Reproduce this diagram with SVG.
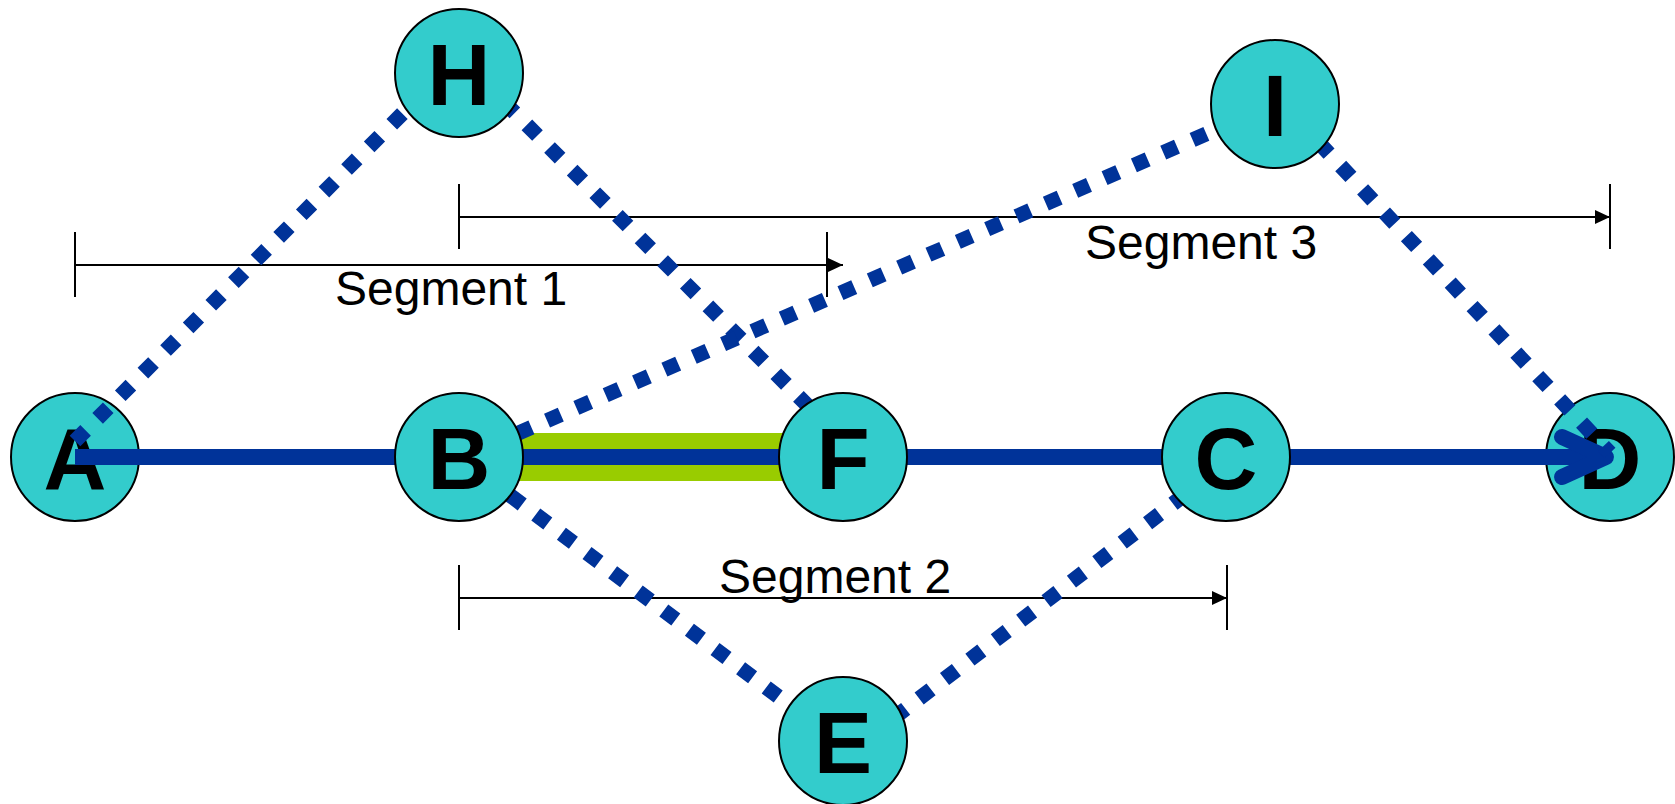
<svg xmlns="http://www.w3.org/2000/svg" width="1675" height="804" viewBox="0 0 1675 804">
<defs>
<marker id="dimArrow" markerWidth="16" markerHeight="14" refX="15" refY="7" orient="auto" markerUnits="userSpaceOnUse">
<path d="M0,0 L15,7 L0,14 Z" fill="#000"/>
</marker>
<style>
.node circle{fill:#33CCCC;stroke:#000;stroke-width:2}
.node text{font-family:"Liberation Sans",Arial,sans-serif;font-weight:bold;font-size:87px;text-anchor:middle;fill:#000}
.dot{stroke:#003399;stroke-width:15;stroke-dasharray:15 17;fill:none}
.main{stroke:#003399;stroke-width:16;fill:none}
.dim{stroke:#000;stroke-width:2;fill:none}
.lbl{font-family:"Liberation Sans",Arial,sans-serif;font-size:48px;fill:#000}
</style>
</defs>
<rect width="1675" height="804" fill="#fff"/>
<g id="node-A" class="node"><circle cx="75" cy="457" r="64"/><text x="75" y="489">A</text></g>
<g id="node-D" class="node"><circle cx="1610" cy="457" r="64"/><text x="1610" y="489">D</text></g>
<g id="dimensions">
<line class="dim" x1="75" y1="265" x2="843" y2="265" marker-end="url(#dimArrow)"/>
<line class="dim" x1="75" y1="232" x2="75" y2="297"/>
<line class="dim" x1="827" y1="232" x2="827" y2="297"/>
<line class="dim" x1="459" y1="217" x2="1610" y2="217" marker-end="url(#dimArrow)"/>
<line class="dim" x1="459" y1="184" x2="459" y2="249"/>
<line class="dim" x1="1610" y1="184" x2="1610" y2="249"/>
<line class="dim" x1="459" y1="598" x2="1227" y2="598" marker-end="url(#dimArrow)"/>
<line class="dim" x1="459" y1="565" x2="459" y2="630"/>
<line class="dim" x1="1227" y1="565" x2="1227" y2="630"/>
<text class="lbl" x="335" y="305">Segment 1</text>
<text class="lbl" x="719" y="593">Segment 2</text>
<text class="lbl" x="1085" y="259">Segment 3</text>
</g>
<g id="connectors">
<rect x="459" y="433" width="384" height="48" fill="#99CC00"/>
<line class="main" x1="75" y1="457" x2="1606" y2="457"/>
<polyline class="main" points="1562,437 1606,457 1562,477" stroke-linecap="round" stroke-linejoin="round"/>
<line class="dot" x1="75" y1="441" x2="459" y2="57"/>
<line class="dot" x1="459" y1="57" x2="843" y2="441"/>
<line class="dot" x1="459" y1="459" x2="1275" y2="104"/>
<line class="dot" x1="1275" y1="96" x2="1610" y2="453"/>
<line class="dot" x1="459" y1="457" x2="843" y2="745"/>
<line class="dot" x1="843" y1="757" x2="1226" y2="463"/>
</g>
<g id="node-B" class="node"><circle cx="459" cy="457" r="64"/><text x="459" y="489">B</text></g>
<g id="node-F" class="node"><circle cx="843" cy="457" r="64"/><text x="843" y="489">F</text></g>
<g id="node-C" class="node"><circle cx="1226" cy="457" r="64"/><text x="1226" y="489">C</text></g>
<g id="node-H" class="node"><circle cx="459" cy="73" r="64"/><text x="459" y="105">H</text></g>
<g id="node-I" class="node"><circle cx="1275" cy="104" r="64"/><text x="1275" y="136">I</text></g>
<g id="node-E" class="node"><circle cx="843" cy="741" r="64"/><text x="843" y="773">E</text></g>
</svg>
